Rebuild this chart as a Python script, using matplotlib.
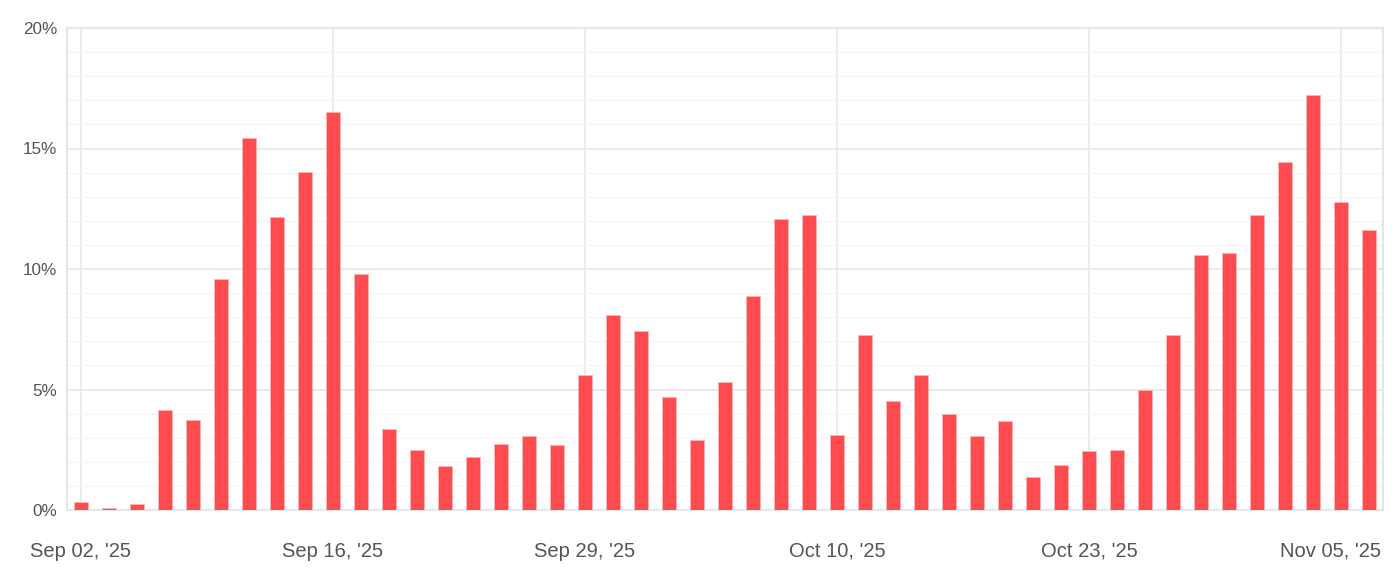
import matplotlib
matplotlib.use("Agg")
import matplotlib.pyplot as plt
from matplotlib.ticker import FixedLocator, MultipleLocator, FuncFormatter
from matplotlib.transforms import ScaledTranslation

values = [0.32, 0.09, 0.26, 4.14, 3.75, 9.59, 15.43, 12.16, 14.02, 16.51,
          9.80, 3.38, 2.51, 1.82, 2.20, 2.75, 3.06, 2.68, 5.61, 8.10,
          7.42, 4.69, 2.89, 5.31, 8.90, 12.08, 12.23, 3.13, 7.25, 4.54,
          5.61, 3.99, 3.06, 3.69, 1.35, 1.88, 2.45, 2.51, 5.00, 7.25,
          10.60, 10.67, 12.23, 14.42, 17.20, 12.78, 11.61]
tick_positions = [0, 9, 18, 27, 36, 45]
tick_labels = ["Sep 02, '25", "Sep 16, '25", "Sep 29, '25", "Oct 10, '25",
               "Oct 23, '25", "Nov 05, '25"]
y_ticks = [0, 5, 10, 15, 20]

W, H = 1395, 578
fig = plt.figure(figsize=(W / 100, H / 100), dpi=100)
plt.rcParams['font.family'] = ['Liberation Sans', 'DejaVu Sans']
ax = fig.add_axes([67 / W, (H - 510) / H, (1383 - 67) / W, (510 - 28) / H])

x = list(range(len(values)))
ax.bar(x, values, width=0.48, color='#ff4d4f', edgecolor='#ffb3b5',
       linewidth=0.6, zorder=3)

ax.set_xlim(-0.5, len(values) - 0.5)
ax.set_ylim(0, 20)

ax.xaxis.set_major_locator(FixedLocator(tick_positions))
ax.set_xticklabels(tick_labels)
ax.yaxis.set_major_locator(FixedLocator(y_ticks))
ax.yaxis.set_minor_locator(MultipleLocator(1))
ax.yaxis.set_major_formatter(FuncFormatter(lambda v, p: f"{v:.0f}%"))

ax.grid(axis='y', which='major', color='#e8e8e8', linewidth=1.2, zorder=0)
ax.grid(axis='y', which='minor', color='#f5f5f5', linewidth=1.0, zorder=0)
ax.grid(axis='x', which='major', color='#ececec', linewidth=1.5, zorder=0)

for s in ax.spines.values():
    s.set_color('#e6e6e6')
    s.set_linewidth(1.5)

ax.tick_params(axis='both', which='both', length=0)
ax.tick_params(axis='x', labelsize=14.5, labelcolor='#555555', pad=23)
ax.tick_params(axis='y', labelsize=12.3, labelcolor='#555555', pad=7)

labels = ax.get_xticklabels()
last = labels[-1]
last.set_transform(last.get_transform() + ScaledTranslation(-10 / 100, 0, fig.dpi_scale_trans))

fig.savefig("out.png", dpi=100, facecolor='white')
